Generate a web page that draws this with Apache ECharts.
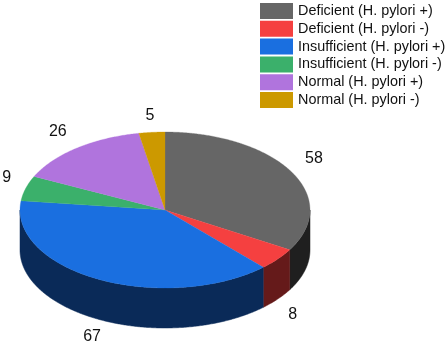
<!DOCTYPE html>
<html><head><meta charset="utf-8">
<style>html,body{margin:0;padding:0;background:#fff}#c{width:447px;height:346px}</style>
<script src="https://cdn.jsdelivr.net/npm/echarts@6/dist/echarts.min.js"></script>
</head><body><div id="c"></div>
<script>
const categories = ['Deficient (H. pylori +)','Deficient (H. pylori -)','Insufficient (H. pylori +)','Insufficient (H. pylori -)','Normal (H. pylori +)','Normal (H. pylori -)'];
const values = [58, 8, 67, 9, 26, 5];
const topColors = ['#666666','#f54040','#1a6fe0','#3bb06b','#b074dd','#cc9900'];
const wallColors = ['#1f1f1f','#651a1a','#0a2a58','#12351f','#35233f','#3d2e00'];
const labelOffsets = [[23,-13],[15,55],[-7,57],[-19,-11],[-19,-16],[-2,-17]];

const CX = 165, CY = 210, RX = 145, RY = 78, DEPTH = 40;
const total = values.reduce((a,b)=>a+b,0);
const pt = (deg, dy) => { const t = deg*Math.PI/180; return [CX+RX*Math.sin(t), CY-RY*Math.cos(t)+(dy||0)]; };
function arc(a, b, dy){ const out=[]; const n=Math.max(2,Math.ceil((b-a)*2)); for(let i=0;i<=n;i++) out.push(pt(a+(b-a)*i/n,dy)); return out; }

const series = categories.map((name,i)=>{
  const before = values.slice(0,i).reduce((a,b)=>a+b,0);
  const start = before/total*360;
  return {
    type:'custom', name, coordinateSystem:'none', animation:false, silent:true,
    itemStyle:{color:topColors[i]},
    data:[[values[i]]],
    renderItem(params, api){
      const v = api.value(0);
      const end = start + v/total*360;
      const mid = (start+end)/2;
      const children = [];
      const wa = Math.max(start,90), wb = Math.min(end,270);
      if (wb>wa){
        const upper = arc(wa,wb,0), lower = arc(wa,wb,DEPTH).reverse();
        children.push({type:'polygon',shape:{points:upper.concat(lower)},style:{fill:wallColors[i],stroke:wallColors[i],lineWidth:0.5}});
      }
      children.push({type:'polygon',shape:{points:[[CX,CY]].concat(arc(start,end,0))},style:{fill:topColors[i],stroke:topColors[i],lineWidth:0.3}});
      const rim = pt(mid,0), off = labelOffsets[i];
      children.push({type:'text',z2:10,style:{x:rim[0]+off[0],y:rim[1]+off[1],text:String(v),fill:'#111',font:'16px "Liberation Sans"',align:'center',verticalAlign:'middle'}});
      return {type:'group',children};
    }
  };
});

const chart = echarts.init(document.getElementById('c'),null,{renderer:'canvas'});
chart.setOption({
  animation:false, backgroundColor:'#fff',
  legend:{orient:'vertical',left:260,top:3,padding:0,itemWidth:33,itemHeight:16,itemGap:1.8,icon:'rect',selectedMode:false,
    data:categories,textStyle:{fontFamily:'Liberation Sans',fontSize:14.4,color:'#111'}},
  series
});
</script></body></html>
